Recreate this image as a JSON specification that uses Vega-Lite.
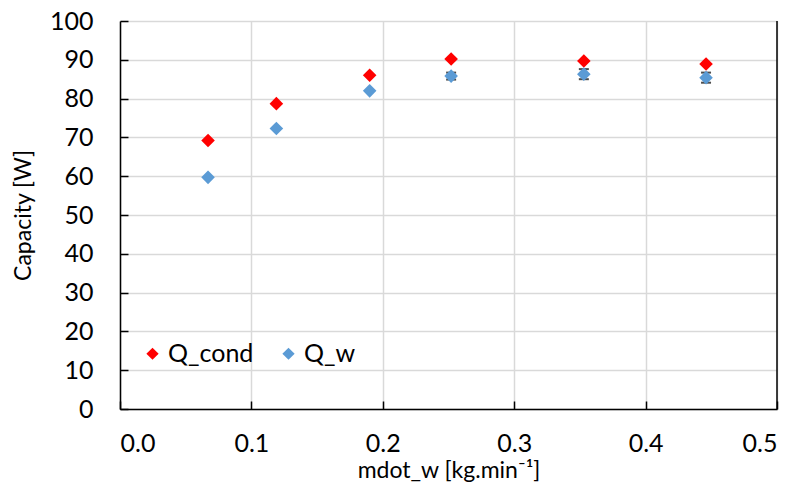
{
  "$schema": "https://vega.github.io/schema/vega-lite/v6.json",
  "width": 657,
  "height": 388,
  "autosize": {"type": "none"},
  "padding": {"left": 120, "top": 21, "right": 24, "bottom": 86},
  "background": "white",
  "config": {
    "font": "Lato",
    "view": {"stroke": null},
    "axis": {
      "labelFont": "Lato", "labelFontSize": 25, "labelColor": "#000000", "labelOverlap": false,
      "titleFont": "Lato", "titleFontSize": 23, "titleFontWeight": "normal", "titleColor": "#000000",
      "domainColor": "#000000", "domainWidth": 1.5,
      "tickColor": "#000000", "tickWidth": 1.5, "tickSize": -8,
      "gridColor": "#D9D9D9", "gridWidth": 1.5
    },
    "legend": {"labelFont": "Lato", "labelFontSize": 25, "labelColor": "#000000"}
  },
  "datasets": {
    "pts": [
      {"mdot": 0.067, "series": "Q_cond", "Q": 69.2},
      {"mdot": 0.119, "series": "Q_cond", "Q": 78.7},
      {"mdot": 0.190, "series": "Q_cond", "Q": 86.0},
      {"mdot": 0.252, "series": "Q_cond", "Q": 90.2},
      {"mdot": 0.353, "series": "Q_cond", "Q": 89.7},
      {"mdot": 0.446, "series": "Q_cond", "Q": 88.9},
      {"mdot": 0.067, "series": "Q_w", "Q": 59.7},
      {"mdot": 0.119, "series": "Q_w", "Q": 72.3},
      {"mdot": 0.190, "series": "Q_w", "Q": 82.0},
      {"mdot": 0.252, "series": "Q_w", "Q": 85.8},
      {"mdot": 0.353, "series": "Q_w", "Q": 86.3},
      {"mdot": 0.446, "series": "Q_w", "Q": 85.4}
    ],
    "err": [
      {"mdot": 0.252, "lo": 84.9, "hi": 86.7},
      {"mdot": 0.353, "lo": 85.0, "hi": 87.6},
      {"mdot": 0.446, "lo": 84.1, "hi": 86.7}
    ]
  },
  "layer": [
    {
      "data": {"name": "err"},
      "mark": {"type": "errorbar", "ticks": {"color": "#000000", "size": 10, "thickness": 2}, "rule": {"color": "#000000", "strokeWidth": 1.5}},
      "encoding": {
        "x": {
          "field": "mdot", "type": "quantitative",
          "scale": {"domain": [0, 0.5], "nice": false},
          "axis": {"values": [0, 0.1, 0.2, 0.3, 0.4, 0.5], "format": ".1f", "labelPadding": 30, "titlePadding": 3},
          "title": "mdot_w [kg.min⁻¹]"
        },
        "y": {
          "field": "lo", "type": "quantitative",
          "scale": {"domain": [0, 100], "nice": false},
          "axis": {"values": [0, 10, 20, 30, 40, 50, 60, 70, 80, 90, 100], "labelPadding": 35, "titlePadding": 14},
          "title": "Capacity [W]"
        },
        "y2": {"field": "hi"}
      }
    },
    {
      "data": {"values": [{"edge": 0.5}]},
      "mark": {"type": "rule", "color": "#000000", "strokeWidth": 1.5},
      "encoding": {"x": {"field": "edge", "type": "quantitative", "title": "mdot_w [kg.min⁻¹]"}}
    },
    {
      "data": {"name": "pts"},
      "mark": {"type": "point", "shape": "diamond", "filled": true, "size": 185, "opacity": 1},
      "encoding": {
        "x": {
          "field": "mdot", "type": "quantitative",
          "scale": {"domain": [0, 0.5], "nice": false},
          "axis": {"values": [0, 0.1, 0.2, 0.3, 0.4, 0.5], "format": ".1f", "labelPadding": 30, "titlePadding": 3},
          "title": "mdot_w [kg.min⁻¹]"
        },
        "y": {
          "field": "Q", "type": "quantitative",
          "scale": {"domain": [0, 100], "nice": false},
          "axis": {"values": [0, 10, 20, 30, 40, 50, 60, 70, 80, 90, 100], "labelPadding": 35, "titlePadding": 14},
          "title": "Capacity [W]"
        },
        "color": {
          "field": "series", "type": "nominal",
          "scale": {"domain": ["Q_cond", "Q_w"], "range": ["#FF0000", "#5B9BD5"]},
          "legend": {"title": null, "orient": "none", "legendX": 20, "legendY": 320, "direction": "horizontal", "symbolType": "diamond", "symbolSize": 150, "symbolOpacity": 1, "columnPadding": 22, "labelOffset": 3}
        }
      }
    }
  ]
}
